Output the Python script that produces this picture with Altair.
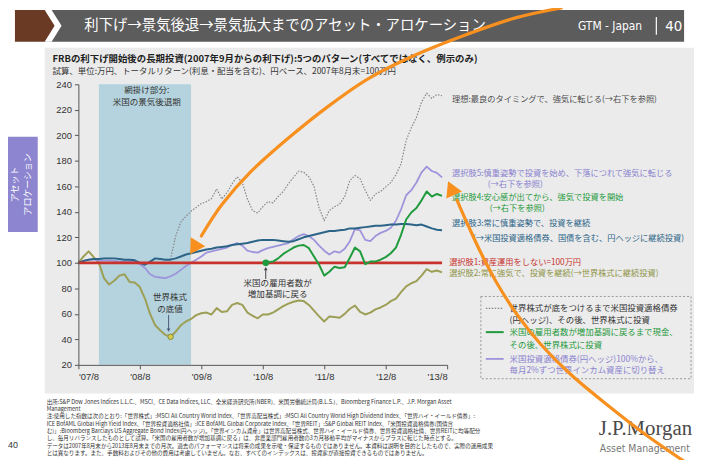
import json
import altair as alt
import pandas as pd

FONT = "Noto Sans CJK JP"
NARROW = "'Liberation Sans Narrow', 'DejaVu Sans Condensed', sans-serif"

# plot-area placement on the page (px)
X0, Y0 = 79, 83
W, H = 372, 283

# ------------------------------------------------------------------ data
x_tick_values = [0, 12, 24, 36, 48, 60, 72]
x_tick_labels = ["'07/8", "'08/8", "'09/8", "'10/8", "'11/8", "'12/8", "'13/8"]
y_tick_values = [20, 40, 60, 80, 100, 120, 140, 160, 180, 200, 220, 240]

# month index 0 = Aug 2007 ... 71 = Jul 2013
ideal = [100, 101.5, 102.5, 103, 103, 103.5, 103.5, 103.5, 103, 102.5,
         102.5, 102, 100, 98.5, 101, 103.5, 103, 102.5, 103, 121,
         132, 136.5, 140.5, 143.5, 146.5, 148, 150.5, 158, 150, 155,
         162, 167.5, 163, 150, 141, 139, 144, 148, 147, 152,
         156, 162, 167, 172, 171, 167.5, 160, 143, 133, 141,
         144, 146, 152, 164.5, 168.5, 166, 157, 149, 154, 156,
         159.5, 163, 169, 177.5, 196, 206, 214, 226, 233, 229,
         232, 231]
opt5 = [100, 101.5, 102.5, 102.5, 102, 102, 102, 101.5, 101, 101,
        101, 100.5, 99, 96, 91, 89, 88.5, 88, 89.5, 91.5,
        94.5, 97.5, 100, 102.5, 105, 108, 109, 110, 111, 112,
        114, 115.5, 113.5, 109.5, 108.5, 108, 110, 111.5, 112.5, 113.5,
        114.5, 115.5, 118.5, 121, 122.5, 121, 118, 113.5, 109.5, 106.5,
        109, 108, 111, 117, 126.5, 125.5, 118, 117, 121, 123.5,
        125, 127.5, 133, 142, 153, 157, 163, 171, 175.5, 172,
        170.5, 167]
opt4_start = 36
opt4 = [100, 100.5, 101, 103.5, 107, 109.5, 112, 113.5, 114, 111.5,
        105, 98.5, 90, 93, 97, 96, 96.5, 104, 112, 109,
        99, 101, 101, 102.5, 104.5, 107.5, 112, 122, 134, 139.5,
        143, 149, 156, 152, 154, 152.5]
opt3 = [100, 101.5, 102.5, 103, 103, 103.5, 103.5, 103.5, 103, 102.5,
        102.5, 102, 100, 98.5, 101, 103.5, 103, 102.5, 102.5, 103.5,
        105, 106.5, 107.5, 108.5, 109.5, 110.5, 111, 112, 112.5, 113,
        114, 114.5, 115, 115.5, 116.5, 117.5, 118, 118, 118, 117.5,
        117, 116.5, 117, 118.5, 120, 121, 122, 123, 124, 125,
        125, 125.5, 126, 127, 127, 127.5, 128, 128.5, 129, 129,
        129.5, 130, 130, 130.5, 130.5, 130, 129.5, 130, 128.5, 127,
        126, 125.5]
opt1_value = 100
opt1_span = [0, 71]
opt2 = [100, 105, 109, 104.5, 100, 88, 83, 86, 90, 91,
        85, 84.5, 81, 72, 60, 51, 47, 43.5, 42, 46,
        51, 54, 56, 59, 60.5, 61, 59.5, 64.5, 61.5, 62,
        67, 68.5, 67, 61, 58.5, 56.5, 59.5, 59.5, 61, 63.5,
        66, 68, 69.5, 70.5, 70, 67, 62.5, 58, 54, 58,
        57.5, 57, 60, 64, 66.5, 61.5, 59.5, 61, 63.5, 65,
        67, 70, 72, 77, 81.5, 84, 85.6, 90, 95, 93,
        94, 92.5]
recession_span = [4, 22]          # Dec 2007 - Jun 2009
equity_trough = [18, 42]          # marked dot on world equities
jobs_turn = [36.6, 100]           # US payrolls back to growth

# ------------------------------------------------------------------ helpers
axis_style = dict(title=None, grid=False, zindex=2, labelFont="Liberation Sans", labelFontSize=9.5,
                  labelColor="#333", domainColor="#555", tickColor="#555", tickSize=4, labelPadding=3)
xscale = alt.Scale(domain=[0, 72], nice=False, zero=False)
xenc = alt.X("m:Q", scale=xscale,
             axis=alt.Axis(values=x_tick_values,
                           labelExpr=json.dumps(x_tick_labels) + "[round(datum.value/12)]",
                           **axis_style))
yenc = alt.Y("v:Q", scale=alt.Scale(domain=[20, 240], nice=False, zero=False),
             axis=alt.Axis(values=y_tick_values, **axis_style))

ONE = alt.InlineData(values=[{"d": 0}])


def series_df(vals, start=0):
    return pd.DataFrame({"m": list(range(start, start + len(vals))), "v": vals})


def series_line(vals, color, width, dash=None, start=0):
    mk = dict(color=color, strokeWidth=width, interpolate="linear", strokeJoin="round")
    if dash:
        mk["strokeDash"] = dash
    return alt.Chart(series_df(vals, start)).mark_line(**mk).encode(x=xenc, y=yenc)


def texts(rows, size, weight="normal", align="left", angle=0, font=FONT):
    df = pd.DataFrame(rows, columns=["text", "px", "py", "color"])
    df["px"] = df["px"] - X0
    df["py"] = df["py"] - Y0
    mk = dict(align=align, baseline="middle", fontSize=size, fontWeight=weight, font=font)
    if angle:
        mk["angle"] = angle
    return alt.Chart(df).mark_text(**mk).encode(
        x=alt.X("px:Q", scale=None), y=alt.Y("py:Q", scale=None),
        text="text:N", color=alt.Color("color:N", scale=None))


def rect(x1, y1, x2, y2, fill, stroke=None, dash=None, sw=1.0):
    mk = dict(fill=fill)
    if stroke:
        mk.update(stroke=stroke, strokeWidth=sw)
    if dash:
        mk["strokeDash"] = dash
    return alt.Chart(ONE).mark_rect(**mk).encode(
        x=alt.value(x1 - X0), x2=alt.value(x2 - X0), y=alt.value(y1 - Y0), y2=alt.value(y2 - Y0))


def symbol(shape, cx, cy, size, color, angle=0):
    mk = dict(shape=shape, filled=True, size=size, color=color, opacity=1, strokeWidth=0)
    if angle:
        mk["angle"] = angle
    return alt.Chart(ONE).mark_point(**mk).encode(x=alt.value(cx - X0), y=alt.value(cy - Y0))


def polyline(points, color, width, interp="linear", dash=None, cap="round"):
    df = pd.DataFrame(points, columns=["px", "py"])
    df["px"] = df["px"] - X0
    df["py"] = df["py"] - Y0
    df["i"] = range(len(df))
    mk = dict(color=color, strokeWidth=width, interpolate=interp, strokeCap=cap)
    if dash:
        mk["strokeDash"] = dash
    return alt.Chart(df).mark_line(**mk).encode(
        x=alt.X("px:Q", scale=None), y=alt.Y("py:Q", scale=None), order="i:Q")


# ------------------------------------------------------------------ colours
C_IDEAL = "#858585"
C_OPT5 = "#9d94dc"
C_OPT4 = "#1f9a3c"
C_OPT3 = "#2c6488"
C_OPT1 = "#c8322d"
C_OPT2 = "#9c9f55"
ORANGE = "#f7901e"
DARK = "#333333"

layers = []

# page furniture
layers.append(rect(45, 46, 700, 395, "#ebebeb"))
layers.append(rect(45, 8, 690, 40, "#5c5c5c"))
layers.append(symbol("M-0.425,-0.8L-0.075,-0.8L0.425,0L-0.075,0.8L-0.425,0.8Z", 53.5, 24, 1600, "white"))
layers.append(symbol("M-1,-0.8L0.5,-0.8L1,0L0.5,0.8L-1,0.8Z", 35, 24, 1600, "#6a3a25"))
layers.append(texts([["利下げ→景気後退→景気拡大までのアセット・アロケーション", 85, 24, "white"]], 14.5))
layers.append(texts([["GTM - Japan", 583, 24, "white"]], 12, font=NARROW))
layers.append(texts([["40", 671, 24, "white"]], 15, font=NARROW))
layers.append(polyline([[662, 15], [662, 33]], "white", 1.2, cap="butt"))

layers.append(rect(4, 136, 38, 232, "#8d85cf"))
layers.append(texts([["アセット", 15, 184, "white"], ["アロケーション", 28, 184, "white"]],
                    9, align="center", angle=270))

layers.append(texts([["FRBの利下げ開始後の長期投資(2007年9月からの利下げ):5つのパターン(すべてではなく、例示のみ)",
                      53, 57, "#222"]], 9.5, weight="bold"))
layers.append(texts([["試算、単位:万円、トータルリターン(利息・配当を含む)、円ベース、2007年8月末=100万円",
                      53, 70, "#333"]], 8.5))

# recession band
layers.append(alt.Chart(pd.DataFrame({"m": [recession_span[0]], "e": [recession_span[1]]}))
              .mark_rect(color="#b5d3de").encode(
                  x=xenc, x2="e:Q", y=alt.value(0), y2=alt.value(H)))

# series
layers.append(series_line(opt2, C_OPT2, 2.0))
layers.append(series_line(ideal, C_IDEAL, 1.2, dash=[1.5, 1.5]))
layers.append(series_line(opt5, C_OPT5, 1.8))
layers.append(series_line(opt3, C_OPT3, 2.0))
layers.append(alt.Chart(pd.DataFrame({"m": [opt1_span[0]], "m2": [opt1_span[1]], "v": [opt1_value]}))
              .mark_rule(color=C_OPT1, strokeWidth=2.6).encode(x=xenc, x2="m2:Q", y=yenc))
layers.append(series_line(opt4, C_OPT4, 2.0, start=opt4_start))

# markers
layers.append(alt.Chart(pd.DataFrame({"m": [equity_trough[0]], "v": [equity_trough[1]]}))
              .mark_point(filled=True, size=30, color="#d8cc4a", stroke="#7f8a3a", strokeWidth=1, opacity=1)
              .encode(x=xenc, y=yenc))
layers.append(alt.Chart(pd.DataFrame({"m": [jobs_turn[0]], "v": [jobs_turn[1]]}))
              .mark_point(filled=True, size=45, color=C_OPT4, opacity=1)
              .encode(x=xenc, y=yenc))

# in-chart annotations
layers.append(texts([["網掛け部分:", 148, 89, DARK], ["米国の景気後退期", 148, 101, DARK],
                     ["世界株式", 171.5, 298, DARK], ["の底値", 171.5, 310, DARK],
                     ["米国の雇用者数が", 280, 283, DARK], ["増加基調に戻る", 280, 295, DARK]],
                    8.6, align="center"))
layers.append(polyline([[170, 316], [170, 330]], "#4a5a7a", 1))
layers.append(symbol("triangle-down", 170, 331, 14, "#4a5a7a"))
layers.append(polyline([[268, 270], [268, 279]], "#444", 1))
layers.append(symbol("triangle-up", 268, 269, 14, "#444"))

# right-hand labels
layers.append(texts([
    ["理想:最良のタイミングで、強気に転じる(→右下を参照)", 456, 98.7, "#4d4d4d"],
    ["選択肢5:慎重姿勢で投資を始め、下落につれて強気に転じる", 456, 173, "#8a82cf"],
    ["(→右下を参照)", 492, 184.5, "#8a82cf"],
    ["選択肢4:安心感が出てから、強気で投資を開始", 456, 197.5, C_OPT4],
    ["(→右下を参照)", 494, 208.5, C_OPT4],
    ["選択肢3:常に慎重姿勢で、投資を継続", 456, 224, C_OPT3],
    ["(→米国投資適格債券、国債を含む、円ヘッジに継続投資)", 477, 239.5, C_OPT3],
    ["選択肢1:資産運用をしない=100万円", 453, 263, C_OPT1],
    ["選択肢2:常に強気で、投資を継続(→世界株式に継続投資)", 453, 274.5, "#8f9447"],
], 8.3))

# legend box
layers.append(rect(485, 297, 697, 380, "#ececec", stroke="#999", dash=[2, 2], sw=1))
layers.append(polyline([[490, 309], [508, 309]], C_IDEAL, 1.2, dash=[1.5, 1.5], cap="butt"))
layers.append(polyline([[490, 333], [508, 333]], C_OPT4, 2, cap="butt"))
layers.append(polyline([[490, 360], [508, 360]], C_OPT5, 1.8, cap="butt"))
layers.append(texts([
    ["世界株式が底をつけるまで米国投資適格債券", 514, 309, "#333"],
    ["(円ヘッジ)、その後、世界株式に投資", 514, 320.5, "#333"],
    ["米国の雇用者数が増加基調に戻るまで現金、", 514, 333, C_OPT4],
    ["その後、世界株式に投資", 514, 345.5, C_OPT4],
    ["米国投資適格債券(円ヘッジ)100%から、", 514, 360, "#8a82cf"],
    ["毎月2%ずつ世界インカム資産に切り替え", 514, 371, "#8a82cf"],
], 8.5))

# footnotes
foot = [
    "出所:S&P Dow Jones Indices L.L.C.、MSCI、CE Data Indices, LLC、全米経済研究所(NBER)、米国労働統計局(B.L.S.)、Bloomberg Finance L.P.、J.P. Morgan Asset",
    "Management",
    "注:使用した指数は次のとおり:「世界株式」:MSCI All Country World Index、「世界高配当株式」:MSCI All Country World High Dividend Index、「世界ハイ・イールド債券」:",
    "ICE BofAML Global High Yield Index、「世界投資適格社債」:ICE BofAML Global Corporate Index、「世界REIT」:S&P Global REIT Index、「米国投資適格債券(国債含",
    "む)」:Bloomberg Barclays US Aggregate Bond Index(円ヘッジ)。「世界インカム資産」は世界高配当株式、世界ハイ・イールド債券、世界投資適格社債、世界REITに均等配分",
    "し、毎月リバランスしたものとして試算。「米国の雇用者数が増加基調に戻る」は、非農業部門雇用者数の3カ月移動平均がマイナスからプラスに転じた時点とする。",
    "データは2007年8月末から2013年8月末までの月次。過去のパフォーマンスは将来の成果を示唆・保証するものではありません。本資料は説明を目的としたもので、実際の運用成果",
    "とは異なります。また、手数料およびその他の費用は考慮していません。なお、すべてのインデックスは、投資家が直接投資できるものではありません。",
]
layers.append(texts([[t, 47, 403 + 7.4 * i, "#333"] for i, t in enumerate(foot)], 5.6))

layers.append(texts([["40", 8, 447, "#333"]], 9, font="Liberation Sans"))
layers.append(texts([["J.P.Morgan", 604, 431, "#4a4a4a"]], 21, font="Liberation Serif"))
layers.append(texts([["Asset Management", 605, 451, "#777"]], 10.5, font=NARROW))

# orange overlay arrows
layers.append(polyline([[566, 6], [520, 16], [470, 33], [420, 53], [372, 77], [330, 106],
                        [290, 138], [252, 172], [224, 204], [203, 236]], ORANGE, 3.2, interp="cardinal"))
layers.append(symbol("triangle", 197, 246, 300, ORANGE, angle=212))
layers.append(polyline([[461, 200], [472, 225], [486, 255], [502, 285], [522, 316], [546, 346],
                        [576, 376], [612, 406], [652, 437], [700, 470]], ORANGE, 3.2, interp="cardinal"))
layers.append(symbol("triangle", 456, 190, 300, ORANGE, angle=336))

chart = (alt.layer(*layers)
         .properties(width=W, height=H,
                     padding={"left": X0 - 8, "top": Y0 - 8, "right": 692 - (X0 - 8) - W,
                              "bottom": 452 - (Y0 - 8) - H},
                     autosize=alt.AutoSizeParams(type="none"))
         .configure_view(stroke=None)
         .configure(background="white"))

chart.save("out.html", embed_options={"renderer": "svg", "actions": False})
